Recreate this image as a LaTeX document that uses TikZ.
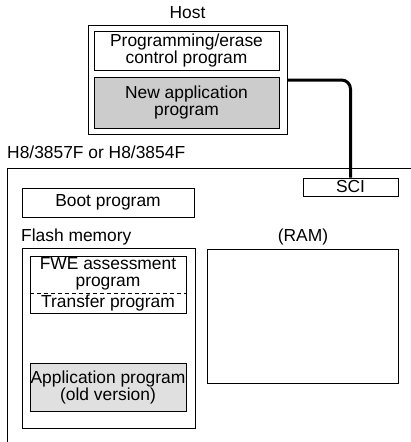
\documentclass[tikz,border=0pt]{standalone}
\usepackage{fontspec}
\setmainfont{Liberation Sans}
\usetikzlibrary{calc}

\tikzset{
  box/.style={draw,line width=1pt,inner sep=0pt,align=center},
  txt/.style={inner sep=0pt,align=center},
  link/.style={line width=3pt,rounded corners=9pt},
}

\begin{document}
\begin{tikzpicture}[x=1pt,y=-1pt,font=\fontsize{17.4}{17}\selectfont]
  \useasboundingbox (0,0) rectangle (410,442);
  % Host side
  \node[txt] (hostlbl) at (187.5,13) {Host};
  \node[box,minimum width=199pt,minimum height=109pt] (host) at (187.5,79.5) {};
  \node[box,minimum width=185pt,minimum height=39pt] (pectl) at (186.5,50.5)
    {Programming/erase\\control program};
  \node[box,fill=black!20,minimum width=185pt,minimum height=51pt] (newapp) at (186.5,102.5)
    {New application\\program};
  % Chip outline
  \node[txt,anchor=west] (chiplbl) at (7,152) {H8/3857F or H8/3854F};
  \draw[line width=1pt] (7,442) -- (7,168) -- (411,168);
  \node[box,minimum width=95pt,minimum height=18pt] (sci) at (350.5,187) {SCI};
  % Serial link
  \coordinate (hostport) at (host.east |- 0,80);
  \draw[link] (hostport) -| (sci.north);
  % Boot area
  \node[box,minimum width=172pt,minimum height=29pt] (boot) at (108,202.5) {Boot program};
  % Flash memory
  \node[txt,anchor=west] (flashlbl) at (21,237) {Flash memory};
  \node[box,minimum width=173pt,minimum height=180pt] (flash) at (108.5,338) {};
  \node[box,minimum width=156pt,minimum height=57pt] (fweblk) at (108,284.5) {};
  \node[txt] (fwe) at (108,274) {FWE assessment\\program};
  \node[txt] (xfer) at (108,303.5) {Transfer program};
  \draw[line width=0.8pt,dash pattern=on 4pt off 3pt] (fweblk.west |- 0,293) -- (fweblk.east |- 0,293);
  \node[box,fill=black!12,minimum width=156pt,minimum height=48pt] (oldapp) at (108,387)
    {Application program\\(old version)};
  % RAM
  \node[txt] (ramlbl) at (303,237) {(RAM)};
  \node[box,minimum width=191pt,minimum height=134pt] (ram) at (302.5,316) {};
\end{tikzpicture}
\end{document}
